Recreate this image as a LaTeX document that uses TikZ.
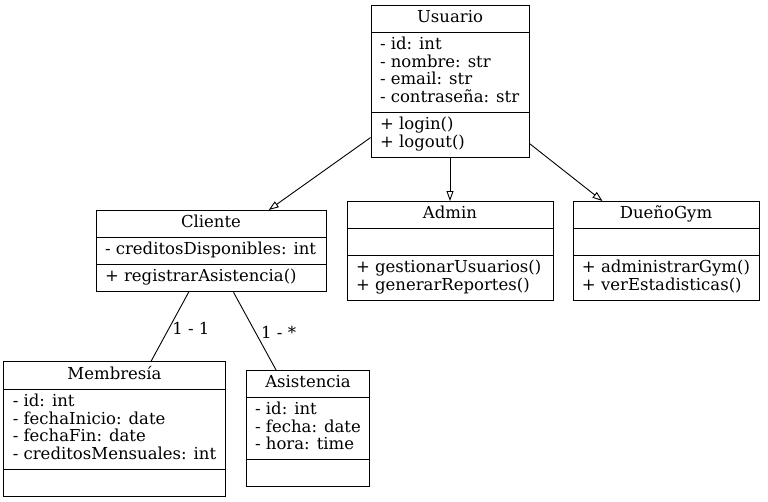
\documentclass[tikz,border=0pt]{standalone}
\usepackage{fontspec}
\setmainfont{DejaVu Serif}
\usepackage{tikz}
\usetikzlibrary{positioning}
\usetikzlibrary{arrows.meta}
\usetikzlibrary{shapes.multipart}
\newcommand{\umlfont}{\fontsize{16.5}{17.6}\selectfont\lineskiplimit=-20pt\relax}
\tikzset{
  umlclass/.style={draw, line width=0.9pt, rectangle split, rectangle split parts=3,
    rectangle split part align={center,left,left}, align=left,
    inner xsep=9pt, inner ysep=4.2pt, anchor=north},
  herencia/.style={-{Triangle[open,length=10pt,width=7pt]}, line width=0.9pt},
  asociacion/.style={line width=0.9pt},
}

\begin{document}
\begin{tikzpicture}[x=1pt,y=-1pt,font=\umlfont]
  \useasboundingbox (0,0) rectangle (768,501);
  % base class
  \node[umlclass, minimum width=158pt] at (450,5) (nUsuario)
    {\strut Usuario
     \nodepart{two}\strut- id: int\\\strut- nombre: str\\\strut- email: str\\\strut- contraseña: str
     \nodepart{three}\strut+ login()\\\strut+ logout()};
  % derived classes
  \node[umlclass, minimum width=230pt] at (211,210) (nCliente)
    {\strut Cliente
     \nodepart{two}\strut- creditosDisponibles: int
     \nodepart{three}\strut+ registrarAsistencia()};
  \node[umlclass, minimum width=206pt] at (450,201) (nAdmin)
    {\strut Admin
     \nodepart{two}\strut
     \nodepart{three}\strut+ gestionarUsuarios()\\\strut+ generarReportes()};
  \node[umlclass, minimum width=186pt] at (666,201) (nDueno)
    {\strut DueñoGym
     \nodepart{two}\strut
     \nodepart{three}\strut+ administrarGym()\\\strut+ verEstadisticas()};
  % classes linked to Cliente
  \node[umlclass, minimum width=221pt] at (114.5,361) (nMembresia)
    {\strut Membresía
     \nodepart{two}\strut- id: int\\\strut- fechaInicio: date\\\strut- fechaFin: date\\\strut- creditosMensuales: int
     \nodepart{three}\strut};
  \node[umlclass, minimum width=122pt] at (308,370) (nAsistencia)
    {\strut Asistencia
     \nodepart{two}\strut- id: int\\\strut- fecha: date\\\strut- hora: time
     \nodepart{three}\strut};
  % inheritance
  \draw[herencia] (nUsuario) -- (nCliente);
  \draw[herencia] (nUsuario) -- (nAdmin);
  \draw[herencia] (nUsuario) -- (nDueno);
  % associations
  \draw[asociacion] (nCliente) -- node[midway, anchor=west, inner sep=2pt, yshift=-2pt] (nRel1) {1 - 1} (nMembresia);
  \draw[asociacion] (nCliente) -- node[midway, anchor=west, inner sep=2pt, xshift=4pt, yshift=-1pt] (nRel2) {1 - *} (nAsistencia);
\end{tikzpicture}
\end{document}
